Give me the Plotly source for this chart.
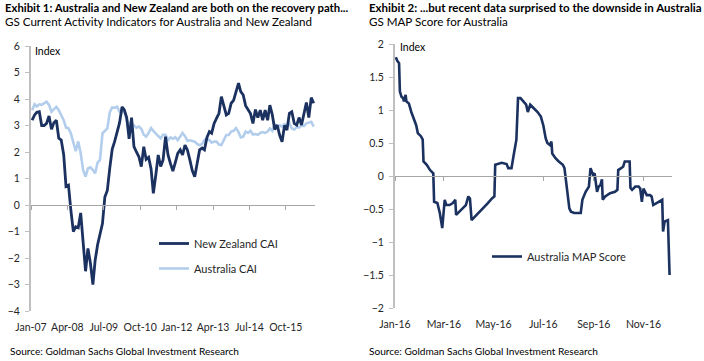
import pandas as pd
import plotly.graph_objects as go

# ---------------- Data: Exhibit 1 (monthly, Jan-07 .. Sep-16) ----------------
cai_start = "2007-01-01"
nz_cai = [3.2, 3.4, 3.5, 3.52, 3.0, 3.0, 3.08, 3.36, 2.86, 3.1,
          3.2, 2.52, 2.45, 1.9, 0.7, 0.75, -0.2, -1.0, -0.82, -0.86,
          -0.3, -1.4, -2.5, -1.64, -2.2, -3.0, -2.1, -1.5, -1.15, -0.7,
          0.3, 0.55, 1.4, 2.1, 2.4, 2.7, 3.1, 3.7, 3.6, 3.3,
          2.5, 3.3, 2.2, 2.0, 1.82, 1.45, 2.2, 1.72, 1.8, 1.35,
          0.44, 1.13, 1.89, 1.45, 1.7, 2.58, 1.89, 1.57, 1.28, 1.6,
          1.95, 2.08, 1.89, 2.26, 2.08, 1.7, 1.3, 1.07, 1.6, 2.08,
          2.15, 2.08, 2.55, 2.77, 2.71, 3.08, 3.27, 3.46, 4.09, 3.7,
          3.4, 3.46, 3.84, 3.95, 4.3, 4.6, 4.28, 4.15, 3.75, 3.6,
          3.45, 3.08, 3.6, 3.3, 3.58, 3.2, 3.58, 3.2, 3.77, 3.4,
          2.85, 3.02, 2.64, 2.39, 3.0, 2.83, 3.46, 3.52, 3.08, 3.02,
          3.3, 3.02, 3.4, 3.87, 3.3, 4.05, 3.84]
au_cai = [3.58, 3.8, 3.72, 3.8, 3.78, 3.85, 3.9, 3.78, 3.52, 3.62,
          3.7, 3.58, 3.4, 3.2, 2.92, 2.9, 2.7, 2.38, 2.03, 2.4,
          1.95, 1.32, 1.07, 1.38, 1.42, 1.32, 1.2, 1.6, 1.7, 2.7,
          2.8, 2.89, 3.5, 3.68, 3.67, 3.71, 3.52, 3.5, 3.55, 3.2,
          3.05, 3.08, 3.0, 2.92, 2.96, 2.88, 2.65, 2.58, 2.72, 2.9,
          2.8, 2.68, 2.6, 2.52, 2.65, 2.65, 2.45, 2.55, 2.5, 2.56,
          2.45, 2.58, 2.72, 2.6, 2.42, 2.44, 2.42, 2.39, 2.3, 2.26,
          2.3, 2.45, 2.5, 2.45, 2.35, 2.39, 2.39, 2.28, 2.26, 2.45,
          2.64, 2.64, 2.77, 2.8, 2.9, 2.75, 2.55, 2.58, 2.77, 2.72,
          2.8, 2.66, 2.68, 2.65, 2.72, 2.75, 2.72, 2.77, 2.89, 2.8,
          3.05, 2.95, 3.0, 2.96, 3.05, 2.98, 3.08, 2.89, 2.85, 2.94,
          2.92, 3.0, 2.98, 3.08, 3.12, 3.14, 2.96]
cai_months = pd.date_range(cai_start, periods=len(nz_cai), freq="MS") + pd.Timedelta(days=14)
cai_tick_dates = ["2007-01-01", "2008-04-01", "2009-07-01", "2010-10-01",
                  "2012-01-01", "2013-04-01", "2014-07-01", "2015-10-01"]
cai_tick_labels = ["Jan-07", "Apr-08", "Jul-09", "Oct-10", "Jan-12", "Apr-13", "Jul-14", "Oct-15"]

# ---------------- Data: Exhibit 2 (MAP score, 2016) ----------------
map_dates = ["2016-01-02", "2016-01-04", "2016-01-06", "2016-01-07", "2016-01-09", "2016-01-11",
             "2016-01-12", "2016-01-14", "2016-01-15", "2016-01-18", "2016-01-21", "2016-01-23",
             "2016-01-25", "2016-01-27", "2016-01-29", "2016-02-02", "2016-02-04", "2016-02-05",
             "2016-02-09", "2016-02-13", "2016-02-17", "2016-02-18", "2016-02-22", "2016-02-25",
             "2016-02-28", "2016-03-02", "2016-03-04", "2016-03-08", "2016-03-12", "2016-03-15",
             "2016-03-16", "2016-03-20", "2016-03-24", "2016-03-28", "2016-03-31", "2016-04-02",
             "2016-04-04", "2016-04-08", "2016-04-12", "2016-04-16", "2016-04-20", "2016-04-24",
             "2016-04-29", "2016-05-02", "2016-05-03", "2016-05-05", "2016-05-11", "2016-05-17",
             "2016-05-19", "2016-05-23", "2016-05-25", "2016-05-26", "2016-05-29", "2016-05-31",
             "2016-06-03", "2016-06-07", "2016-06-10", "2016-06-12", "2016-06-15", "2016-06-19",
             "2016-06-24", "2016-06-28", "2016-07-01", "2016-07-04", "2016-07-06", "2016-07-09",
             "2016-07-11", "2016-07-12", "2016-07-16", "2016-07-20", "2016-07-25", "2016-07-27",
             "2016-07-31", "2016-08-02", "2016-08-04", "2016-08-08", "2016-08-16", "2016-08-18",
             "2016-08-22", "2016-08-26", "2016-08-28", "2016-08-31", "2016-09-02", "2016-09-03",
             "2016-09-05", "2016-09-07", "2016-09-09", "2016-09-11", "2016-09-12", "2016-09-15",
             "2016-09-21", "2016-09-27", "2016-09-30", "2016-10-01", "2016-10-04", "2016-10-07",
             "2016-10-09", "2016-10-15", "2016-10-16", "2016-10-18", "2016-10-22", "2016-10-26",
             "2016-10-28", "2016-10-30", "2016-11-01", "2016-11-03", "2016-11-05", "2016-11-09",
             "2016-11-11", "2016-11-13", "2016-11-17", "2016-11-21", "2016-11-24", "2016-11-25",
             "2016-11-27", "2016-12-01", "2016-12-03"]
map_score = [1.80, 1.74, 1.71, 1.28, 1.20, 1.18,
             1.13, 1.23, 1.13, 1.10, 0.97, 0.90,
             0.85, 0.77, 0.65, 0.60, 0.55, 0.22,
             0.17, 0.09, 0.04, -0.39, -0.41, -0.56,
             -0.79, -0.36, -0.44, -0.44, -0.41, -0.36,
             -0.59, -0.54, -0.49, -0.44, -0.31, -0.34,
             -0.67, -0.62, -0.56, -0.52, -0.47, -0.41,
             -0.34, -0.31, 0.17, 0.18, 0.20, 0.18,
             0.12, 0.12, 0.32, 0.34, 0.55, 1.18,
             1.18, 1.13, 1.08, 0.97, 1.08, 1.03,
             0.97, 0.90, 0.77, 0.57, 0.50, 0.47,
             0.52, 0.34, 0.27, 0.22, 0.17, 0.12,
             -0.36, -0.49, -0.54, -0.56, -0.56, -0.36,
             -0.24, -0.16, 0.12, 0.02, 0.04, -0.06,
             -0.24, -0.16, -0.14, -0.05, -0.36, -0.31,
             -0.26, -0.24, -0.21, 0.09, 0.12, 0.14,
             0.22, 0.22, -0.18, -0.21, -0.16, -0.16,
             -0.19, -0.39, -0.19, -0.24, -0.29, -0.29,
             -0.31, -0.44, -0.41, -0.39, -0.36, -0.84,
             -0.69, -0.67, -1.50]
map_tick_dates = ["2016-01-01", "2016-03-01", "2016-05-01", "2016-07-01", "2016-09-01", "2016-11-01"]
map_tick_labels = ["Jan-16", "Mar-16", "May-16", "Jul-16", "Sep-16", "Nov-16"]

# ---------------- Styling ----------------
W, H = 704, 361
FONT = "Lato"
NAVY = "#1b3160"
LIGHT = "#b3cdec"
AXIS_GRAY = "#bfbfbf"
ZERO_GRAY = "#a6a6a6"
TXT = "#262626"


def px(xp):
    return xp / W


def py(yp):
    return 1 - yp / H


fig = go.Figure()

fig.add_trace(go.Scatter(x=cai_months, y=au_cai, name="Australia CAI", mode="lines",
                         line=dict(color=LIGHT, width=2.6), xaxis="x", yaxis="y",
                         legend="legend", legendgroup="au", legendrank=2))
fig.add_trace(go.Scatter(x=cai_months, y=nz_cai, name="New Zealand CAI", mode="lines",
                         line=dict(color=NAVY, width=2.8), xaxis="x", yaxis="y",
                         legend="legend", legendgroup="nz", legendrank=1))
fig.add_trace(go.Scatter(x=map_dates, y=map_score, name="Australia MAP Score", mode="lines",
                         line=dict(color=NAVY, width=2.6), xaxis="x2", yaxis="y2",
                         legend="legend2"))

left_range = ["2007-01-01", "2016-10-01"]
right_range = ["2016-01-01", "2016-12-06"]
tickfont = dict(family=FONT, size=10.5, color=TXT)

common_x = dict(type="date", tickmode="array", showline=True, linecolor=ZERO_GRAY, linewidth=1,
                ticks="outside", ticklen=4, tickcolor=ZERO_GRAY, showgrid=False,
                zeroline=False, automargin=False, tickfont=tickfont)
common_y = dict(showline=True, linecolor=AXIS_GRAY, linewidth=2, ticks="outside", ticklen=4,
                tickcolor=AXIS_GRAY, showgrid=False, zeroline=False, automargin=False,
                tickfont=tickfont, ticklabelstandoff=3)

fig.update_layout(
    template="none",
    width=W, height=H,
    margin=dict(l=0, r=0, t=0, b=0, autoexpand=False),
    paper_bgcolor="white", plot_bgcolor="white",
    font=dict(family=FONT, color=TXT),
    xaxis=dict(common_x, domain=[px(31), px(315)], range=left_range, anchor="free",
               position=py(205), tickvals=cai_tick_dates, ticktext=cai_tick_labels,
               ticklabelstandoff=108),
    yaxis=dict(common_y, domain=[py(311), py(46)], range=[-4, 6], dtick=1, anchor="x"),
    xaxis2=dict(common_x, domain=[px(395), px(672)], range=right_range, anchor="free",
                position=py(176), tickvals=map_tick_dates, ticktext=map_tick_labels,
                ticklabelstandoff=134),
    yaxis2=dict(common_y, domain=[py(308), py(44)], range=[-2, 2], dtick=0.5, anchor="x2"),
    legend=dict(x=px(154), y=py(229), xanchor="left", yanchor="top",
                bgcolor="rgba(0,0,0,0)", font=dict(family=FONT, size=11, color=TXT),
                tracegroupgap=6, traceorder="grouped"),
    legend2=dict(x=px(487), y=py(242), xanchor="left", yanchor="top",
                 bgcolor="rgba(0,0,0,0)", font=dict(family=FONT, size=11, color=TXT)),
    showlegend=True,
    hovermode=False,
)

annotations = [
    dict(text="<b>Exhibit 1: Australia and New Zealand are both on the recovery path...</b>",
         x=px(3), y=py(7), size=11.3),
    dict(text="GS Current Activity Indicators for Australia and New Zealand",
         x=px(3), y=py(21), size=11.6),
    dict(text="<b>Exhibit 2: ...but recent data surprised to the downside in Australia</b>",
         x=px(367), y=py(7), size=11.5),
    dict(text="GS MAP Score for Australia", x=px(367), y=py(21), size=11.6),
    dict(text="Index", x=px(33), y=py(51), size=10.5),
    dict(text="Index", x=px(398), y=py(47), size=10.5),
    dict(text="Source: Goldman Sachs Global Investment Research", x=px(8), y=py(351), size=10.1),
    dict(text="Source: Goldman Sachs Global Investment Research", x=px(367), y=py(351), size=10.1),
]
for a in annotations:
    fig.add_annotation(text=a["text"], x=a["x"], y=a["y"], xref="paper", yref="paper",
                       xanchor="left", yanchor="middle", showarrow=False,
                       font=dict(family=FONT, size=a["size"], color="#000000"))

fig.write_html("out.html", config={"displayModeBar": False, "staticPlot": True},
               post_script="document.body.style.margin='0px';")
